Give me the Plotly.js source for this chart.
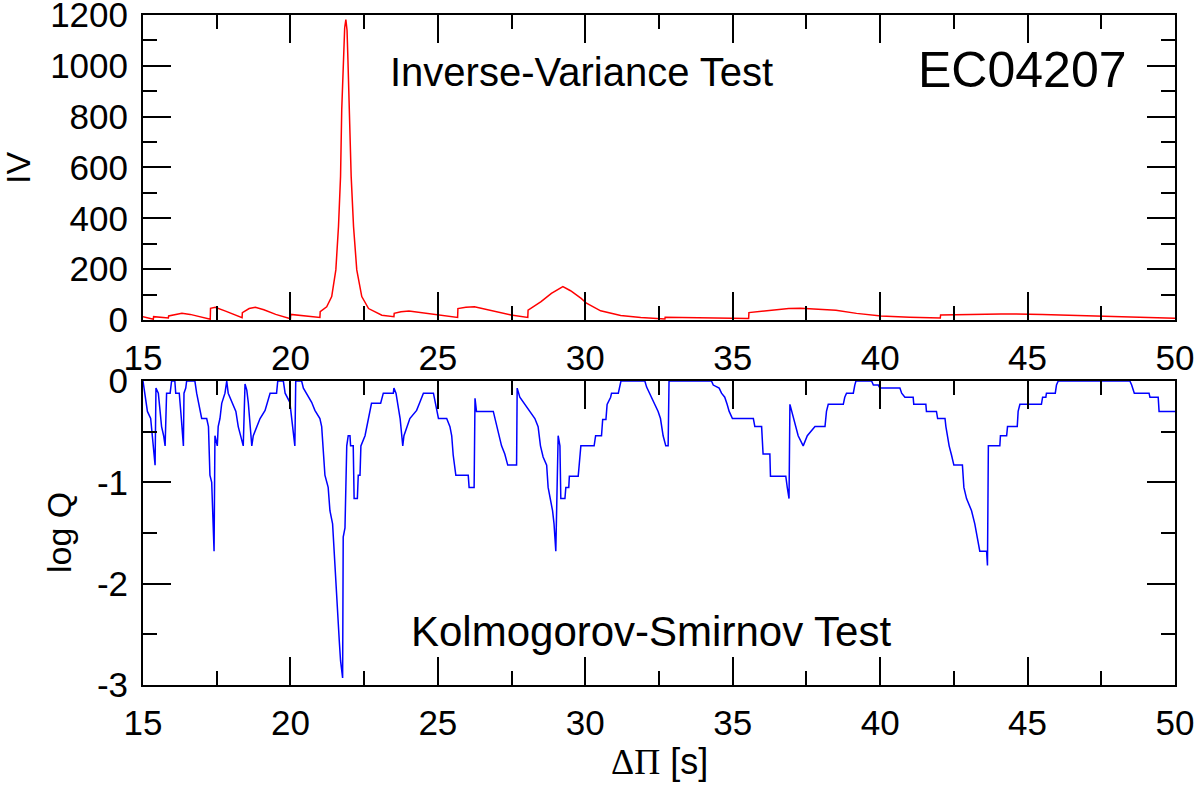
<!DOCTYPE html>
<html>
<head>
<meta charset="utf-8">
<script src="https://cdn.plot.ly/plotly-3.0.1.min.js"></script>
<style>
  html, body { margin: 0; padding: 0; background: #fff; }
  #chart { width: 1200px; height: 785px; }
</style>
</head>
<body>
<div id="chart"></div>
<script>
// Inverse-variance test (top panel)
const ivPeriod = [
    15.0, 15.35, 15.36, 15.6, 15.86, 15.87, 16.1, 16.32, 16.6, 17.0,
    17.28, 17.29, 17.45, 17.8, 18.1, 18.36, 18.37, 18.6, 18.81, 19.1,
    19.5, 20.0, 20.01, 20.5, 21.0, 21.01, 21.23, 21.4, 21.54, 21.63,
    21.7, 21.74, 21.8, 21.84, 21.88, 21.92, 21.95, 22.0, 22.06, 22.14,
    22.25, 22.42, 22.65, 23.1, 23.51, 23.52, 23.75, 24.02, 24.5, 24.99,
    25.67, 25.68, 25.95, 26.24, 26.8, 27.48, 28.05, 28.06, 28.5, 28.85,
    29.24, 29.5, 29.86, 30.04, 30.52, 31.2, 31.88, 32.49, 32.7, 32.71,
    33.5, 34.5, 35.54, 35.55, 36.2, 36.9, 37.3, 38.5, 39.2, 40.03,
    41.0, 42.04, 42.05, 43.0, 44.1, 45.5, 47.5, 48.5, 50.0
];
const ivValue = [
    13, 3, 13, 11, 8, 16, 22, 26, 22, 12,
    3, 46, 50, 35, 20, 9, 29, 45, 50, 40,
    22, 5, 22, 16, 10, 33, 52, 92, 197, 368,
    565, 827, 1050, 1150, 1182, 1140, 1024, 827, 565, 368,
    197, 92, 45, 19, 13, 26, 32, 35, 28, 20,
    10, 45, 50, 52, 38, 20, 10, 39, 72, 105,
    131, 115, 85, 66, 36, 18, 10, 5, 4, 11,
    10, 8, 6, 29, 38, 45, 46, 38, 26, 16,
    11, 8, 20, 23, 24, 22, 16, 12, 7
];

// Kolmogorov-Smirnov test (bottom panel), log Q
const ksPeriod = [
    15.0, 15.1, 15.15, 15.26, 15.35, 15.41, 15.44, 15.52, 15.58, 15.63,
    15.7, 15.75, 15.8, 15.92, 15.97, 16.08, 16.11, 16.23, 16.3, 16.37,
    16.39, 16.45, 16.48, 16.76, 16.82, 16.93, 16.99, 17.16, 17.22, 17.27,
    17.33, 17.41, 17.44, 17.52, 17.55, 17.61, 17.67, 17.78, 17.84, 17.89,
    18.01, 18.15, 18.23, 18.32, 18.4, 18.46, 18.52, 18.57, 18.63, 18.69,
    18.74, 18.97, 19.14, 19.22, 19.31, 19.53, 19.57, 19.76, 19.82, 19.98,
    20.04, 20.15, 20.18, 20.38, 20.44, 20.55, 20.72, 20.83, 21.0, 21.06,
    21.17, 21.28, 21.34, 21.43, 21.51, 21.57, 21.66, 21.7, 21.77, 21.79,
    21.85, 21.91, 21.96, 22.02, 22.04, 22.13, 22.16, 22.27, 22.3, 22.36,
    22.39, 22.53, 22.64, 22.75, 23.06, 23.15, 23.49, 23.51, 23.58, 23.72,
    23.81, 23.85, 24.05, 24.28, 24.39, 24.51, 24.85, 24.96, 25.02, 25.3,
    25.41, 25.47, 25.52, 25.61, 26.03, 26.06, 26.23, 26.26, 26.31, 26.88,
    26.94, 27.01, 27.08, 27.16, 27.27, 27.37, 27.67, 27.69, 27.78, 27.95,
    28.12, 28.29, 28.4, 28.48, 28.57, 28.69, 28.74, 28.82, 28.89, 28.94,
    28.98, 29.0, 29.08, 29.14, 29.17, 29.31, 29.34, 29.44, 29.46, 29.76,
    29.85, 30.3, 30.35, 30.55, 30.59, 30.7, 30.74, 30.86, 30.89, 31.12,
    31.21, 32.02, 32.08, 32.25, 32.36, 32.47, 32.55, 32.59, 32.64, 32.73,
    32.81, 32.84, 34.28, 34.34, 34.54, 34.62, 34.73, 34.81, 34.88, 34.99,
    35.7, 35.75, 35.98, 36.03, 36.26, 36.28, 36.8, 36.85, 36.91, 36.94,
    37.0, 37.08, 37.14, 37.22, 37.39, 37.53, 37.79, 38.13, 38.18, 38.24,
    38.75, 38.8, 38.86, 39.09, 39.14, 39.18, 39.71, 39.77, 39.94, 39.99,
    40.67, 40.73, 40.84, 41.12, 41.14, 41.55, 41.57, 41.91, 41.95, 42.2,
    42.23, 42.27, 42.34, 42.42, 42.5, 42.79, 42.84, 42.93, 43.1, 43.21,
    43.29, 43.38, 43.61, 43.64, 43.67, 44.06, 44.08, 44.29, 44.32, 44.65,
    44.68, 44.74, 45.47, 45.51, 45.62, 45.64, 45.94, 45.98, 46.04, 48.47,
    48.53, 48.62, 49.12, 49.15, 49.43, 49.46, 50.0
];
const ksLogQ = [
    0, -0.19, -0.3, -0.37, -0.64, -0.83, -0.07, -0.12, -0.3, -0.45,
    -0.54, -0.64, -0.12, -0.12, 0, 0, -0.12, -0.12, -0.37, -0.64,
    -0.12, -0.07, 0, 0, -0.12, -0.27, -0.37, -0.37, -0.45, -0.93,
    -1.0, -1.68, -0.54, -0.64, -0.45, -0.37, -0.22, -0.12, 0, -0.12,
    -0.21, -0.3, -0.45, -0.54, -0.64, -0.03, -0.09, -0.21, -0.44, -0.64,
    -0.54, -0.37, -0.29, -0.21, -0.12, -0.12, 0, 0, -0.12, -0.21,
    -0.37, -0.64, 0, 0, -0.07, -0.12, -0.21, -0.29, -0.37, -0.45,
    -0.93, -1.05, -1.28, -1.41, -1.86, -2.12, -2.58, -2.76, -2.93, -1.54,
    -1.45, -0.64, -0.54, -0.54, -0.64, -0.64, -1.16, -1.16, -0.93, -0.93,
    -0.64, -0.54, -0.37, -0.22, -0.22, -0.12, -0.12, -0.07, -0.12, -0.37,
    -0.64, -0.54, -0.37, -0.29, -0.21, -0.12, -0.12, -0.29, -0.37, -0.37,
    -0.45, -0.54, -0.73, -0.93, -0.93, -1.05, -1.05, -0.17, -0.3, -0.3,
    -0.37, -0.45, -0.55, -0.64, -0.72, -0.83, -0.83, -0.07, -0.16, -0.23,
    -0.3, -0.37, -0.45, -0.64, -0.75, -0.83, -1.05, -1.16, -1.28, -1.41,
    -1.58, -1.68, -0.54, -0.64, -1.16, -1.16, -1.05, -1.05, -0.94, -0.94,
    -0.64, -0.64, -0.54, -0.54, -0.38, -0.38, -0.23, -0.16, -0.12, -0.12,
    0, 0, -0.06, -0.16, -0.23, -0.3, -0.37, -0.45, -0.54, -0.64,
    -0.64, 0, 0, -0.04, -0.07, -0.12, -0.16, -0.23, -0.3, -0.37,
    -0.37, -0.45, -0.45, -0.72, -0.72, -0.94, -0.94, -1.05, -1.16, -0.23,
    -0.3, -0.37, -0.45, -0.54, -0.64, -0.54, -0.45, -0.45, -0.3, -0.23,
    -0.23, -0.16, -0.12, -0.12, -0.04, 0, 0, -0.04, -0.04, -0.07,
    -0.07, -0.12, -0.16, -0.16, -0.23, -0.23, -0.3, -0.3, -0.37, -0.37,
    -0.45, -0.54, -0.64, -0.73, -0.83, -0.83, -1.05, -1.16, -1.28, -1.41,
    -1.54, -1.68, -1.68, -1.82, -0.64, -0.64, -0.54, -0.54, -0.45, -0.45,
    -0.3, -0.23, -0.23, -0.16, -0.16, -0.12, -0.12, -0.04, 0, 0,
    -0.04, -0.12, -0.12, -0.16, -0.16, -0.3, -0.3
];

// tick labels of the log Q axis, written with a plain hyphen as in the original
const logQTicks = [-3, -2, -1, 0];
const logQTickText = ['-3', '-2', '-1', '0'];

const SANS = 'Liberation Sans, Arial, Helvetica, sans-serif';

// shared axis look: black frame, inward ticks on all four sides
function frameAxis(extra) {
    return Object.assign({
        showline: true,
        linecolor: '#000',
        linewidth: 2,
        mirror: 'ticks',
        ticks: 'inside',
        ticklen: 28,
        tickwidth: 2,
        tickcolor: '#000',
        showgrid: false,
        zeroline: false,
        tickfont: { family: SANS, size: 35, color: '#000' },
        ticklabelstandoff: 6,
        ticklabeloverflow: 'allow',
    }, extra);
}

function minorTicks(step) {
    return { ticks: 'inside', ticklen: 14, tickwidth: 2, tickcolor: '#000', dtick: step, showgrid: false };
}

function label(text, xpx, ypx, size, angle) {
    // positions given in page pixels, converted to paper coords
    return {
        text: text,
        xref: 'paper', yref: 'paper',
        x: (xpx - 143) / 1032,
        y: (685 - ypx) / 670,
        xanchor: 'center', yanchor: 'middle',
        showarrow: false,
        textangle: angle || 0,
        font: { family: SANS, size: size, color: '#000' },
    };
}

const traces = [
    {
        x: ivPeriod, y: ivValue,
        xaxis: 'x', yaxis: 'y',
        type: 'scatter', mode: 'lines',
        line: { color: '#ff0000', width: 1.5 },
        hoverinfo: 'skip',
    },
    {
        x: ksPeriod, y: ksLogQ,
        xaxis: 'x2', yaxis: 'y2',
        type: 'scatter', mode: 'lines',
        line: { color: '#0000ff', width: 1.5 },
        hoverinfo: 'skip',
    },
];

const layout = {
    width: 1200,
    height: 785,
    margin: { l: 143, r: 25, t: 15, b: 100 },
    paper_bgcolor: '#fff',
    plot_bgcolor: '#fff',
    showlegend: false,
    xaxis: frameAxis({
        anchor: 'y', domain: [0, 1], range: [15, 50], dtick: 5, tick0: 15,
        minor: minorTicks(2.5),
    }),
    yaxis: frameAxis({
        anchor: 'x', domain: [0.5448, 1], range: [0, 1200], dtick: 200,
        minor: minorTicks(100),
    }),
    xaxis2: frameAxis({
        anchor: 'y2', domain: [0, 1], range: [15, 50], dtick: 5, tick0: 15,
        minor: minorTicks(2.5),
    }),
    yaxis2: frameAxis({
        anchor: 'x2', domain: [0, 0.4537], range: [-3, 0],
        tickmode: 'array', tickvals: logQTicks, ticktext: logQTickText,
        minor: { ticks: 'inside', ticklen: 14, tickwidth: 2, tickcolor: '#000', tickmode: 'array', tickvals: [-2.5, -1.5, -0.5], showgrid: false },
    }),
    annotations: [
        label('IV', 18, 168, 34, -90),
        label('log Q', 59, 533, 34, -90),
        label('<span style="font-family:Liberation Serif, Times New Roman, serif">ΔΠ</span> [s]', 659, 762, 36),
        label('Inverse-Variance Test', 581, 72, 40),
        label('EC04207', 1022, 70, 50),
        label('Kolmogorov-Smirnov Test', 651, 631, 42),
    ],
};

Plotly.newPlot('chart', traces, layout, { staticPlot: true, displayModeBar: false });
</script>
</body>
</html>
